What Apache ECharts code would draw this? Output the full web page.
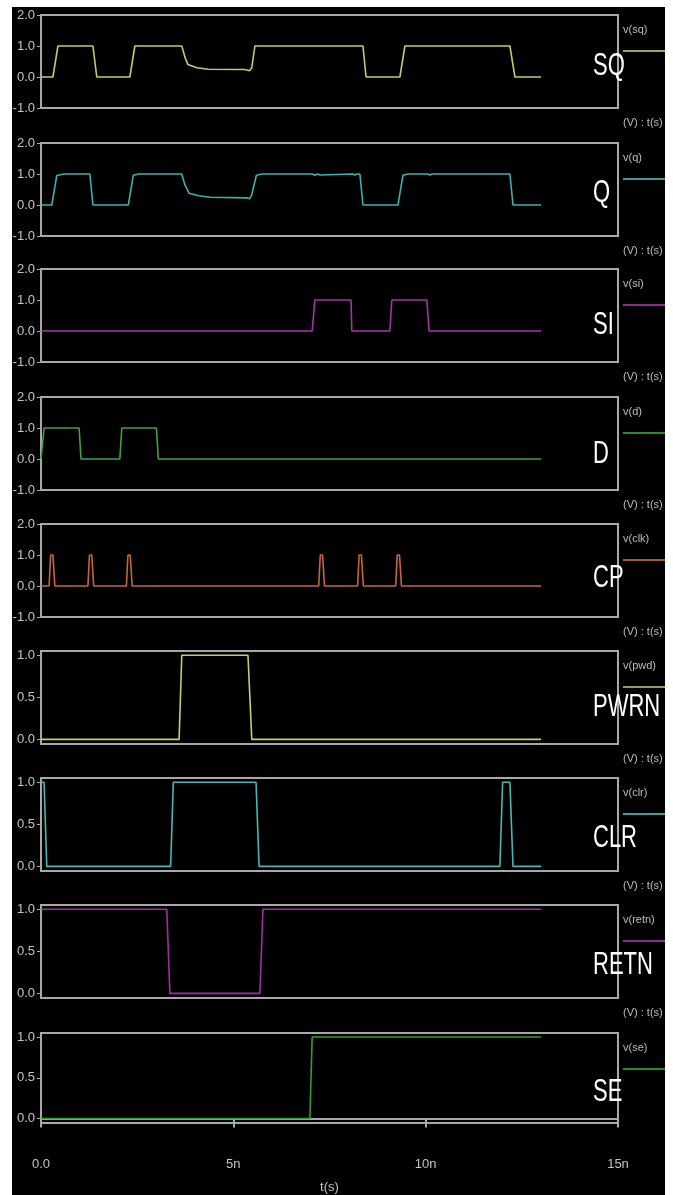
<!DOCTYPE html>
<html>
<head>
<meta charset="utf-8">
<script src="https://cdn.jsdelivr.net/npm/echarts@6/dist/echarts.min.js"></script>
<style>
html,body{margin:0;padding:0;background:#fff;}
#bg{position:absolute;left:12px;top:7px;width:653px;height:1188px;background:#000;}
#chart{position:absolute;left:0;top:0;width:673px;height:1195px;}
</style>
</head>
<body>
<div id="bg"></div>
<div id="chart"></div>
<script>
// ---- data (time in ns, value in V) ----
const signalNames = ['SQ','Q','SI','D','CP','PWRN','CLR','RETN','SE'];
const traceNames  = ['v(sq)','v(q)','v(si)','v(d)','v(clk)','v(pwd)','v(clr)','v(retn)','v(se)'];
const xTickLabels = ['0.0','5n','10n','15n'];

const sqT = [0,0.31,0.44,1.35,1.45,2.31,2.44,3.66,3.74,3.82,4.05,4.35,5.30,5.42,5.48,5.56,8.37,8.45,9.33,9.46,12.19,12.32,13.0];
const sqV = [0,0,1,1,0,0,1,1,0.65,0.40,0.30,0.25,0.24,0.20,0.30,1,1,0,0,1,1,0,0];

const qT = [0,0.28,0.41,0.60,0.95,1.00,1.05,1.27,1.35,2.27,2.40,2.55,3.00,3.05,3.10,3.66,3.74,3.85,4.10,4.40,5.35,5.42,5.47,5.60,5.75,7.05,7.12,7.19,7.25,7.30,8.10,8.16,8.22,8.29,8.37,9.28,9.41,9.55,10.05,10.11,10.17,12.19,12.27,13.0];
const qV = [0,0,0.95,1.0,1.0,0.97,1.0,1.0,0,0,0.96,1.0,1.0,0.97,1.0,1.0,0.65,0.38,0.30,0.25,0.23,0.20,0.30,0.96,1.0,1.0,0.96,1.0,0.97,1.0,1.0,0.97,1.0,1.0,0,0,0.96,1.0,1.0,0.97,1.0,1.0,0,0];

const siT = [0,7.05,7.12,8.06,8.08,9.07,9.12,10.03,10.09,13.0];
const siV = [0,0,1,1,0,0,1,1,0,0];

const dT = [0,0.08,0.99,1.04,2.05,2.10,3.00,3.05,13.0];
const dV = [0,1,1,0,0,1,1,0,0];

const cpT = [0,0.21,0.25,0.31,0.36,1.22,1.26,1.32,1.37,2.22,2.26,2.32,2.37,7.22,7.26,7.32,7.37,8.23,8.27,8.33,8.38,9.22,9.26,9.32,9.37,13.0];
const cpV = [0,0,1,1,0,0,1,1,0,0,1,1,0,0,1,1,0,0,1,1,0,0,1,1,0,0];

const pwrnT = [0,3.59,3.66,5.38,5.48,13.0];
const pwrnV = [0,0,1,1,0,0];

const clrT = [0,0.08,0.15,3.37,3.44,5.59,5.67,11.93,12.00,12.19,12.27,13.0];
const clrV = [1,1,0,0,1,1,0,0,1,1,0,0];

const retnT = [0,3.27,3.35,5.69,5.77,13.0];
const retnV = [1,1,0,0,1,1];

const seT = [0,6.99,7.05,13.0];
const seV = [0,0,1,1];

const seriesT = [sqT,qT,siT,dT,cpT,pwrnT,clrT,retnT,seT];
const seriesV = [sqV,qV,siV,dV,cpV,pwrnV,clrV,retnV,seV];

// ---- styles ----
const lineColors   = ['#c9c96a','#3fb0b0','#a234a8','#3fa23f','#c8663a','#cccc66','#46b8b8','#a22ca8','#2f9f2f'];
const legendColors = ['#a0a058','#3a9898','#8e2c92','#2f8a2f','#a85836','#9c9c58','#3aa0a0','#8e2892','#2a882a'];
const tops = [15,143,269,397,524,651,778,905,1033];
const labelOffsets = [51,50,56,57,54,56,60,60,59];
const PH = 93, GL = 41, GR = 618;
const FONT = '"Liberation Sans Narrow","Liberation Sans",Arial,sans-serif';
const gray = '#c4c4c4';

const grids=[], xAxes=[], yAxes=[], series=[], graphics=[];
for (let i=0;i<9;i++){
  const last = i===8;
  const logic = i>=5;
  grids.push({left:GL, top:tops[i], width:GR-GL, height:PH, show:true, borderColor:'#a8a8a8', borderWidth:2, backgroundColor:'#000'});
  xAxes.push({
    type:'value', gridIndex:i, min:0, max:15, interval:5,
    show:last,
    offset:6,
    name: last?'t(s)':'', nameLocation:'middle', nameGap:52,
    nameTextStyle:{color:gray, fontSize:13, fontFamily:FONT},
    axisLine:{show:true, lineStyle:{color:'#a8a8a8', width:2}},
    axisTick:{show:true, length:9, lineStyle:{color:'#a8a8a8', width:2}},
    axisLabel:{color:gray, fontSize:13, fontFamily:FONT, margin:29,
      formatter:(v)=>xTickLabels[Math.round(v/5)]},
    splitLine:{show:false}
  });
  const y = {
    type:'value', gridIndex:i,
    axisLine:{show:false},
    axisTick:{show:true, length:4, lineStyle:{color:'#a8a8a8', width:1}},
    axisLabel:{color:gray, fontSize:13, fontFamily:FONT, margin:6, formatter:(v)=>v.toFixed(1)},
    splitLine:{show:false}
  };
  if (logic){
    y.min=-0.055; y.max=1.05;
    y.axisLabel.customValues=[0,0.5,1];
    y.axisTick.customValues=[0,0.5,1];
  } else {
    y.min=-1; y.max=2; y.interval=1;
  }
  yAxes.push(y);
  series.push({
    type:'line', xAxisIndex:i, yAxisIndex:i, showSymbol:false, silent:true, animation:false,
    lineStyle:{color:lineColors[i], width:1.6},
    data: seriesT[i].map((t,k)=>[t, seriesV[i][k]])
  });
  const top = tops[i];
  graphics.push({type:'text', left:623, top:top+9, style:{text:traceNames[i], fill:'#bdbdbd', font:'11px '+FONT}});
  graphics.push({type:'rect', shape:{x:623, y:top+35, width:42, height:2}, style:{fill:legendColors[i]}});
  graphics.push({type:'text', x:593, y:top+labelOffsets[i], scaleY:1.45, style:{text:signalNames[i], fill:'#ffffff', font:'22px '+FONT, verticalAlign:'middle'}});
  if (!last) graphics.push({type:'text', left:623, top:top+102, style:{text:'(V) : t(s)', fill:'#bdbdbd', font:'11px '+FONT}});
}

const chart = echarts.init(document.getElementById('chart'), null, {renderer:'canvas'});
chart.setOption({
  backgroundColor:'transparent',
  animation:false,
  grid:grids, xAxis:xAxes, yAxis:yAxes, series:series,
  graphic:graphics
});
</script>
</body>
</html>
